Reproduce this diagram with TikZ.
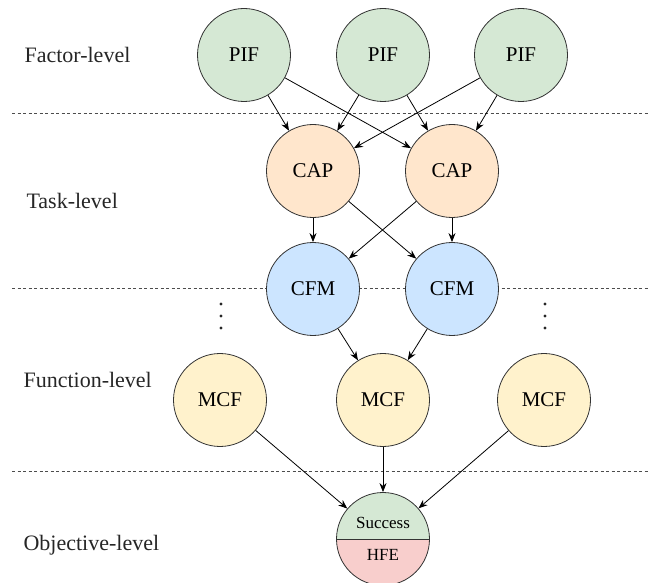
\documentclass[tikz,border=0pt]{standalone}
\usepackage{fontspec}
\setmainfont{Liberation Serif}
\usepackage{tikz}
\usetikzlibrary{arrows.meta,shapes.multipart,positioning}

\definecolor{pifgreen}{HTML}{D5E8D4}
\definecolor{caporange}{HTML}{FFE6CC}
\definecolor{cfmblue}{HTML}{CCE5FF}
\definecolor{mcfyellow}{HTML}{FFF2CC}
\definecolor{hfepink}{HTML}{F8CECC}

\begin{document}
\begin{tikzpicture}[
        x=1pt, y=-1pt,
        basic/.style  = {circle, draw=black!80, line width=0.8pt, minimum size=93pt, inner sep=0pt, font=\fontsize{21}{24}\selectfont},
        pifnode/.style = {basic, fill=pifgreen},
        capnode/.style = {basic, fill=caporange},
        cfmnode/.style = {basic, fill=cfmblue},
        mcfnode/.style = {basic, fill=mcfyellow},
        objective/.style = {circle split, draw=black!80, line width=0.8pt, minimum size=93pt, inner xsep=0pt, inner ysep=10pt,
            fill=pifgreen, font=\fontsize{17}{20}\selectfont,
            path picture={\fill[hfepink] (path picture bounding box.west) rectangle (path picture bounding box.south east);}},
        levelname/.style = {anchor=base west, font=\fontsize{22}{26}\selectfont, text=black!85},
        separator/.style = {black!70, line width=0.7pt, dash pattern=on 3pt off 2.5pt},
        >={Stealth[length=9pt,width=7pt]}]

        \useasboundingbox (0,0) rectangle (649,583);

        % level names on the left
        \node[levelname] (lfactor) at (21,63) {Factor-level};
        \node[levelname] (ltask) at (23,209) {Task-level};
        \node[levelname] (lfunction) at (20,388) {Function-level};
        \node[levelname] (lobjective) at (20,550) {Objective-level};

        % separators between the levels
        \coordinate (s1w) at (12,113);  \coordinate (s1e) at (649,113);
        \coordinate (s2w) at (12,288);  \coordinate (s2e) at (649,288);
        \coordinate (s3w) at (12,471);  \coordinate (s3e) at (649,471);
        \foreach \value in {1,2,3}
        \draw[separator] (s\value w) -- (s\value e);

        % factor level
        \node[pifnode] (pif1) at (244,55) {PIF};
        \node[pifnode] (pif2) at (383,55) {PIF};
        \node[pifnode] (pif3) at (521,55) {PIF};

        % task level
        \node[capnode] (cap1) at (313,171) {CAP};
        \node[capnode] (cap2) at (452,171) {CAP};

        % function level
        \node[cfmnode] (cfm1) at (313,289) {CFM};
        \node[cfmnode] (cfm2) at (452,289) {CFM};
        \node[mcfnode] (mcf1) at (220,400) {MCF};
        \node[mcfnode] (mcf2) at (383,400) {MCF};
        \node[mcfnode] (mcf3) at (544,400) {MCF};

        % objective level
        \node[objective] (obj) at (383,539) {Success \nodepart{lower} HFE};

        % vertical dots
        \foreach \x in {221,545}
        \foreach \y in {304,316,328}
        \fill[black!85] (\x,\y) circle (1.6pt);

        % arrows between the levels
        \foreach \s in {1,2,3}
        \foreach \t in {1,2}
        \draw[->, line width=0.8pt] (pif\s) -- (cap\t);

        \foreach \s in {1,2}
        \foreach \t in {1,2}
        \draw[->, line width=0.8pt] (cap\s) -- (cfm\t);

        \foreach \s in {1,2}
        \draw[->, line width=0.8pt] (cfm\s) -- (mcf2);

        \foreach \s in {1,2,3}
        \draw[->, line width=0.8pt] (mcf\s) -- (obj);

\end{tikzpicture}
\end{document}
